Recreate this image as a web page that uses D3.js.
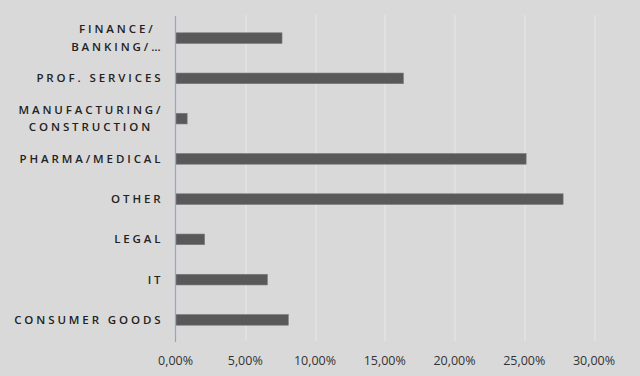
<!DOCTYPE html>
<html>
<head>
<meta charset="utf-8">
<script src="https://cdn.jsdelivr.net/npm/d3@7"></script>
<style>
  html, body { margin: 0; padding: 0; background: #d9d9d9; }
  #chart { width: 640px; height: 376px; }
  .bar { fill: #595959; stroke: #7a7a7a; stroke-width: 0.6; }
  .grid line { stroke: #e8e8e8; stroke-width: 1; }
  .xlab text { fill: #333; font-family: "Open Sans", sans-serif; font-size: 12.5px; }
  .ylab text { fill: #222; font-family: "Open Sans", sans-serif; font-size: 11.5px; font-weight: 600; letter-spacing: 2.9px; }
</style>
</head>
<body>
<div id="chart"></div>
<script>
// categories top to bottom, one label line per array entry
const categories = [
  ["FINANCE/", "BANKING/…"],
  ["PROF. SERVICES"],
  ["MANUFACTURING/", "CONSTRUCTION"],
  ["PHARMA/MEDICAL"],
  ["OTHER"],
  ["LEGAL"],
  ["IT"],
  ["CONSUMER GOODS"]
];
const values = [0.076, 0.163, 0.008, 0.251, 0.2775, 0.0205, 0.0655, 0.0805];
const xTicks = [0, 0.05, 0.10, 0.15, 0.20, 0.25, 0.30];

const width = 640, height = 376;
const margin = { t: 18, l: 175.5, r: 46, b: 36 };
const inner_w = width - margin.l - margin.r;
const inner_h = height - margin.t - margin.b;

const loc = d3.formatLocale({ decimal: ",", thousands: ".", grouping: [3], currency: ["", "€"] });
const fmt = loc.format(".2%");

const svg = d3.select("#chart").append("svg").attr("width", width).attr("height", height);
svg.append("rect").attr("width", width).attr("height", height).attr("fill", "#d9d9d9");

const x_scale = d3.scaleLinear().domain([0, 0.30]).range([0, 418.5]);
const keys = categories.map((c, i) => i);
const y_scale = d3.scaleBand().domain(keys).range([0, inner_h]).paddingInner(0.735).paddingOuter(0.3675);

const graph = svg.append("g").attr("transform", "translate(" + margin.l + "," + margin.t + ")");

// vertical gridlines
graph.append("g").attr("class", "grid")
  .selectAll("line").data(xTicks.slice(1)).enter()
  .append("line")
  .attr("x1", d => Math.round(x_scale(d)) + 0.5).attr("x2", d => Math.round(x_scale(d)) + 0.5)
  .attr("y1", -3).attr("y2", inner_h + 1);

// bars
graph.selectAll(".bar").data(values).enter()
  .append("rect").attr("class", "bar")
  .attr("x", 0.5)
  .attr("y", (d, i) => y_scale(i))
  .attr("width", d => x_scale(d))
  .attr("height", y_scale.bandwidth());

// category axis line
graph.append("line")
  .attr("x1", 0).attr("x2", 0).attr("y1", -2).attr("y2", inner_h + 2)
  .attr("stroke", "#86aad2").attr("stroke-width", 1.2);

// x tick labels
graph.append("g").attr("class", "xlab")
  .selectAll("text").data(xTicks).enter()
  .append("text")
  .attr("x", d => x_scale(d))
  .attr("y", inner_h + 25)
  .attr("text-anchor", "middle")
  .text(d => fmt(d));

// category labels
const lineH = 17.5;
const labRight = -12;
const ylab = graph.append("g").attr("class", "ylab");
categories.forEach((lines, i) => {
  const cy = y_scale(i) + y_scale.bandwidth() / 2;
  const g = ylab.append("g");
  const texts = lines.map((ln, j) => g.append("text")
    .attr("y", cy + (j - (lines.length - 1) / 2) * lineH + 4)
    .text(ln));
  if (lines.length === 1) {
    texts[0].attr("x", labRight).attr("text-anchor", "end");
  } else {
    const maxW = d3.max(texts, t => t.node().getComputedTextLength());
    texts.forEach(t => t.attr("x", labRight - maxW / 2).attr("text-anchor", "middle"));
  }
});
</script>
</body>
</html>
